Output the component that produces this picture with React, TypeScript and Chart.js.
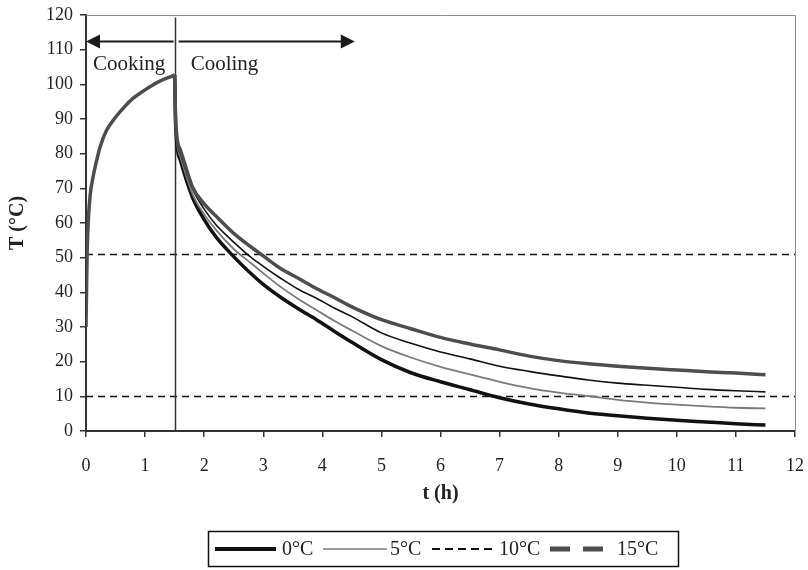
import React, { useEffect, useRef } from "react";
import { Chart, registerables } from "chart.js";

Chart.register(...registerables);

// Cooking phase (shared by every run)
const heatTimes = [0, 0.01, 0.02, 0.04, 0.07, 0.12, 0.18, 0.24, 0.35, 0.5, 0.65, 0.8, 1.0, 1.2, 1.4, 1.5];
const heatTemps = [30, 42, 52, 61, 68, 73.3, 78, 82, 86.8, 90.5, 93.5, 96, 98.4, 100.5, 102, 102.7];

// Cooling phase, one curve per chamber temperature
const coolTimes = [1.5, 1.52, 1.6, 1.8, 2.0, 2.2, 2.5, 2.8, 3.0, 3.3, 3.6, 3.9, 4.2, 4.5, 5.0, 5.5, 6.0, 6.5, 7.0, 7.5, 8.0, 8.5, 9.0, 9.5, 10.0, 10.5, 11.0, 11.5];
const cool0 = [102.7, 87, 78, 67.5, 61, 56, 50.3, 45.3, 42.3, 38.5, 35.2, 32.1, 28.8, 25.6, 20.6, 16.8, 14.2, 11.9, 9.6, 7.8, 6.4, 5.2, 4.4, 3.7, 3.1, 2.6, 2.1, 1.7];
const cool5 = [102.7, 87.5, 79, 68.5, 62.5, 58, 52.5, 48.3, 45.5, 41.5, 38, 34.9, 31.8, 29, 24.5, 21.2, 18.5, 16.3, 14.2, 12.4, 11.1, 10.1, 9.0, 8.2, 7.6, 7.1, 6.7, 6.5];
const cool10 = [102.7, 88, 80, 70, 64, 59.5, 54.5, 50, 47.5, 44, 40.8, 38.3, 35.5, 33, 28.3, 25.3, 22.8, 20.8, 18.7, 17.2, 15.9, 14.7, 13.8, 13.2, 12.6, 12, 11.6, 11.3];
const cool15 = [102.7, 88.5, 81, 70.5, 65.5, 62, 57, 53, 50.5, 46.8, 44, 41.1, 38.5, 35.8, 32.1, 29.5, 27, 25.1, 23.4, 21.6, 20.3, 19.4, 18.7, 18.1, 17.6, 17.1, 16.7, 16.2];

const seriesLabels = ["0°C", "5°C", "10°C", "15°C"];

// Reference levels and phase marks
const refLevels = [51, 10];
const switchTime = 1.5;
const arrowLevel = 112.5;
const arrowEnd = 4.55;
const phaseLabels = ["Cooking", "Cooling"];

const SERIF = "'Liberation Serif', 'Times New Roman', serif";

const pts = (xs: number[], ys: number[]) => xs.map((x, i) => ({ x, y: ys[i] }));

const legendStyles = [
  { color: "#111111", width: 4, dash: [] as number[] },
  { color: "#7a7a7a", width: 1.5, dash: [] as number[] },
  { color: "#111111", width: 2, dash: [8, 5] },
  { color: "#4d4d4d", width: 5, dash: [20, 13] },
];

const overlayPlugin = {
  id: "overlay",
  beforeDatasetsDraw(chart: any) {
    const { ctx, chartArea: a, scales } = chart;
    const x = scales.x;
    const y = scales.y;
    ctx.save();
    // plot frame (top and right)
    ctx.strokeStyle = "#8a8a8a";
    ctx.lineWidth = 1;
    ctx.beginPath();
    ctx.moveTo(a.left, a.top + 0.5);
    ctx.lineTo(a.right + 0.5, a.top + 0.5);
    ctx.lineTo(a.right + 0.5, a.bottom);
    ctx.stroke();
    // dashed reference levels
    ctx.strokeStyle = "#111";
    ctx.lineWidth = 1.5;
    ctx.setLineDash([7, 5]);
    refLevels.forEach((v) => {
      const py = Math.round(y.getPixelForValue(v)) + 0.5;
      ctx.beginPath();
      ctx.moveTo(a.left, py);
      ctx.lineTo(a.right, py);
      ctx.stroke();
    });
    ctx.setLineDash([]);
    // cooking / cooling boundary
    const sx = Math.round(x.getPixelForValue(switchTime)) + 0.5;
    ctx.strokeStyle = "#333";
    ctx.lineWidth = 1.5;
    ctx.beginPath();
    ctx.moveTo(sx, a.bottom);
    ctx.lineTo(sx, y.getPixelForValue(119.3));
    ctx.stroke();
    ctx.restore();
  },
  afterDraw(chart: any) {
    const { ctx, scales } = chart;
    const x = scales.x;
    const y = scales.y;
    ctx.save();
    // phase arrows
    const ay = Math.round(y.getPixelForValue(arrowLevel)) + 0.5;
    const x0 = x.getPixelForValue(0);
    const sx = x.getPixelForValue(switchTime);
    const x1 = x.getPixelForValue(arrowEnd);
    ctx.strokeStyle = "#1a1a1a";
    ctx.fillStyle = "#1a1a1a";
    ctx.lineWidth = 2;
    const head = 14;
    const half = 7;
    ctx.beginPath();
    ctx.moveTo(x0 + head - 1, ay);
    ctx.lineTo(sx - 1, ay);
    ctx.moveTo(sx + 4, ay);
    ctx.lineTo(x1 - head + 1, ay);
    ctx.stroke();
    ctx.beginPath();
    ctx.moveTo(x0, ay);
    ctx.lineTo(x0 + head, ay - half);
    ctx.lineTo(x0 + head, ay + half);
    ctx.closePath();
    ctx.fill();
    ctx.beginPath();
    ctx.moveTo(x1, ay);
    ctx.lineTo(x1 - head, ay - half);
    ctx.lineTo(x1 - head, ay + half);
    ctx.closePath();
    ctx.fill();
    // phase labels
    ctx.font = `21px ${SERIF}`;
    ctx.fillStyle = "#222";
    ctx.textBaseline = "alphabetic";
    ctx.textAlign = "left";
    ctx.fillText(phaseLabels[0], x0 + 7, ay + 28);
    ctx.fillText(phaseLabels[1], sx + 16, ay + 28);

    // legend box
    const lx = 208;
    const ly = 531;
    const lw = 470;
    const lh = 35;
    ctx.strokeStyle = "#111";
    ctx.lineWidth = 1.5;
    ctx.strokeRect(lx + 0.5, ly + 0.5, lw, lh);
    const cy = ly + lh / 2 + 0.5;
    const lines = [
      [215, 276, 282],
      [323, 387, 390],
      [432, 493, 499],
      [550, 605, 617],
    ];
    ctx.font = `20px ${SERIF}`;
    ctx.textBaseline = "middle";
    lines.forEach(([s, e, t], i) => {
      const st = legendStyles[i];
      ctx.strokeStyle = st.color;
      ctx.lineWidth = st.width;
      ctx.setLineDash(st.dash);
      ctx.beginPath();
      ctx.moveTo(s, cy);
      ctx.lineTo(e, cy);
      ctx.stroke();
      ctx.setLineDash([]);
      ctx.fillStyle = "#222";
      ctx.fillText(seriesLabels[i], t, cy + 1);
    });
    ctx.restore();
  },
};

export default function App() {
  const ref = useRef<HTMLCanvasElement | null>(null);

  useEffect(() => {
    if (!ref.current) return;
    const tickFont = { family: SERIF, size: 18 };
    const titleFont = { family: SERIF, size: 20, weight: "bold" as const };
    const chart = new Chart(ref.current, {
      type: "line",
      data: {
        datasets: [
          {
            label: "heat",
            data: pts(heatTimes, heatTemps),
            borderColor: "#4d4d4d",
            borderWidth: 3.5,
            order: 0,
          },
          {
            label: seriesLabels[0],
            data: pts(coolTimes, cool0),
            borderColor: "#111111",
            borderWidth: 3.5,
            order: 4,
          },
          {
            label: seriesLabels[1],
            data: pts(coolTimes, cool5),
            borderColor: "#7a7a7a",
            borderWidth: 1.8,
            order: 3,
          },
          {
            label: seriesLabels[2],
            data: pts(coolTimes, cool10),
            borderColor: "#111111",
            borderWidth: 1.6,
            order: 2,
          },
          {
            label: seriesLabels[3],
            data: pts(coolTimes, cool15),
            borderColor: "#4d4d4d",
            borderWidth: 3.5,
            order: 1,
          },
        ],
      },
      options: {
        animation: false,
        responsive: true,
        maintainAspectRatio: false,
        parsing: false as any,
        elements: {
          point: { radius: 0 },
          line: { cubicInterpolationMode: "monotone", fill: false, borderCapStyle: "butt" },
        },
        layout: { padding: { left: 0, right: 13, top: 15, bottom: 59 } },
        plugins: { legend: { display: false }, tooltip: { enabled: false } },
        scales: {
          x: {
            type: "linear",
            min: 0,
            max: 12,
            ticks: { stepSize: 1, color: "#222", font: tickFont, padding: 18, maxRotation: 0 },
            grid: { drawOnChartArea: false, drawTicks: true, tickLength: 6, color: "#333", lineWidth: 1.5 },
            border: { color: "#333", width: 2 },
            title: { display: true, text: "t (h)", color: "#222", font: titleFont, padding: { top: 0, bottom: 5 } },
            afterFit: (s: any) => {
              s.height = 80;
              s.paddingLeft = 0;
              s.paddingRight = 0;
            },
          },
          y: {
            type: "linear",
            min: 0,
            max: 120,
            ticks: { stepSize: 10, color: "#222", font: tickFont, padding: 7 },
            grid: { drawOnChartArea: false, drawTicks: true, tickLength: 6, color: "#333", lineWidth: 1.5 },
            border: { color: "#333", width: 2 },
            title: { display: true, text: "T (°C)", color: "#222", font: titleFont, padding: { top: 6, bottom: 0 } },
            afterFit: (s: any) => {
              s.width = 86;
              s.paddingTop = 0;
              s.paddingBottom = 0;
            },
          },
        },
      },
      plugins: [overlayPlugin],
    });
    return () => chart.destroy();
  }, []);

  return (
    <div style={{ position: "fixed", left: 0, top: 0, width: 808, height: 570, background: "#fff" }}>
      <canvas ref={ref} />
    </div>
  );
}
